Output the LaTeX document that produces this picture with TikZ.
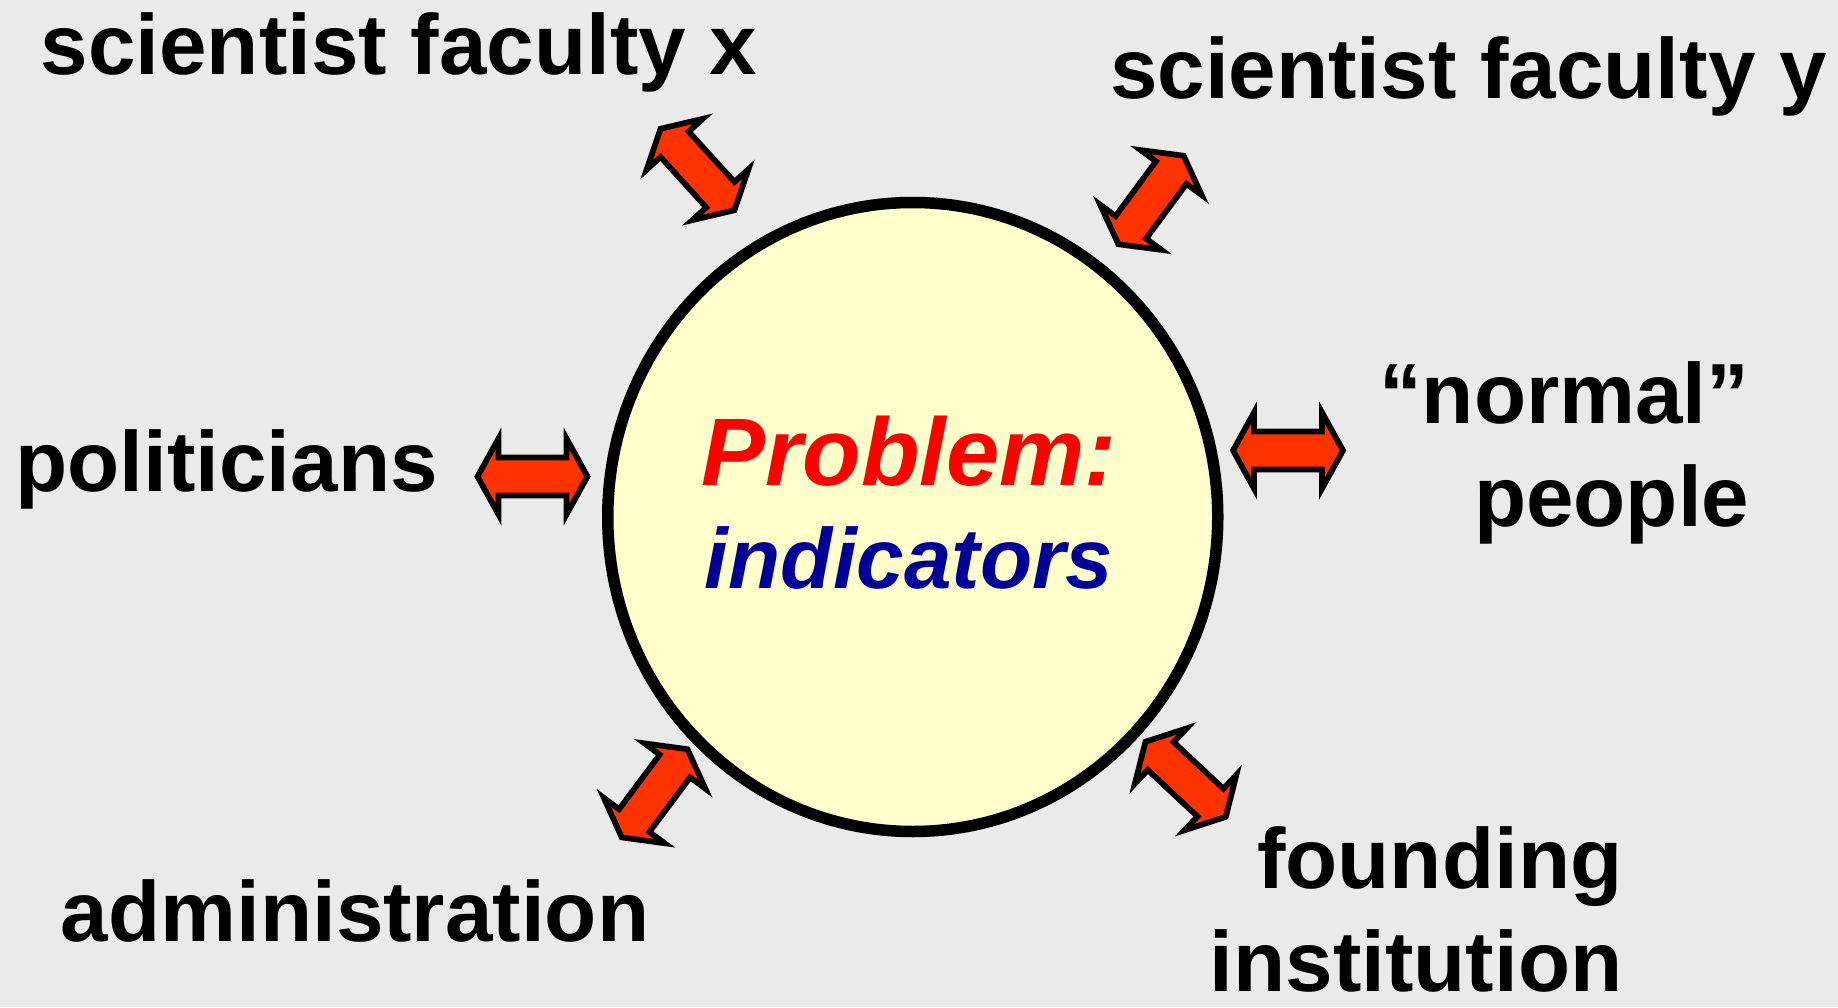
\documentclass[tikz,border=0pt]{standalone}
\usepackage{fontspec}
\setmainfont{Liberation Sans}
\usetikzlibrary{shapes.geometric}

\definecolor{pagebg}{RGB}{234,234,234}
\definecolor{hubfill}{RGB}{255,255,204}
\definecolor{arrowfill}{RGB}{255,51,0}
\definecolor{probred}{RGB}{255,0,0}
\definecolor{indblue}{RGB}{0,0,153}

\begin{document}
\begin{tikzpicture}[x=0.1mm,y=-0.1mm,
  lbl/.style={font=\fontsize{24.3}{29.3}\selectfont\bfseries, inner sep=0pt, text=black},
  twoway/.pic={
    \draw[line width=0.57mm, fill=arrowfill, line join=miter]
      (-55,0) -- (-34,-38) -- (-34,-19) -- (34,-19) -- (34,-38) -- (55,0)
      -- (34,38) -- (34,19) -- (-34,19) -- (-34,38) -- cycle;
  }]
  % page background and fixed frame
  \fill[pagebg] (0,0) rectangle (1838,1007);
  \useasboundingbox (0,0) rectangle (1838,1007);

  % central circle with its caption
  \node[ellipse, draw, line width=1.15mm, fill=hubfill,
        minimum width=61mm, minimum height=62.9mm, inner sep=0pt] (hub) at (912.75,517) {};
  \node[font=\fontsize{27.3}{32}\selectfont\bfseries\itshape, text=probred,
        anchor=base, inner sep=0pt] (prob) at (909,485) {Problem:};
  \node[font=\fontsize{24.3}{29.3}\selectfont\bfseries\itshape, text=indblue,
        anchor=base, inner sep=0pt] (ind) at (909,588.3) {indicators};

  % surrounding groups (multi-line labels are anchored on their last line)
  \node[lbl, anchor=base] (facx) at (399,75) {scientist faculty x};
  \node[lbl, anchor=base] (facy) at (1468.5,98.3) {scientist faculty y};
  \node[lbl, anchor=base] (pol) at (226.5,491.7) {politicians};
  \node[lbl, anchor=base] (adm) at (355,941.7) {administration};
  \node[lbl, align=right, anchor=base east] (norm) at (1750,526.7) {“normal”\\people};
  \node[lbl, align=right, anchor=base east] (fund) at (1623,991.7) {founding\\institution};

  % two-way block arrows between the circle and each group
  \pic[rotate=132.2] at (697.5,169.5) {twoway};
  \pic[rotate=53.6]  at (1151,200)    {twoway};
  \pic               at (532.5,476.5) {twoway};
  \pic               at (1288,450.5)  {twoway};
  \pic[rotate=53.3]  at (654.6,793.3) {twoway};
  \pic[rotate=136.9] at (1185.6,779.3) {twoway};
\end{tikzpicture}
\end{document}
